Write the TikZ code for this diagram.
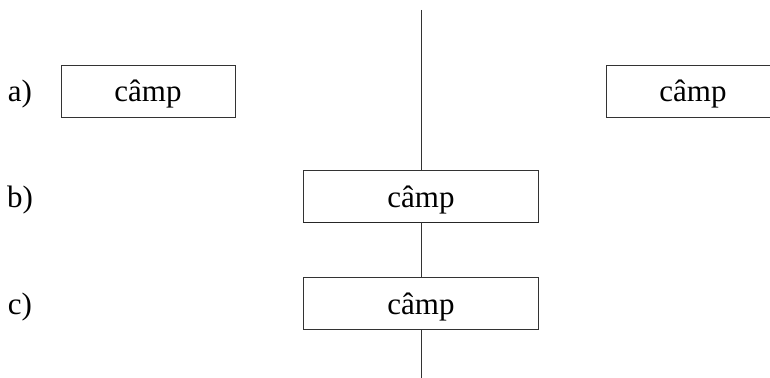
\documentclass[tikz,border=0pt]{standalone}
\usepackage{fontspec}
\setmainfont{Liberation Serif}
\usepackage{tikz}
\usetikzlibrary{positioning}
\tikzstyle{campbox} = [draw=black!80, line width=0.8pt, fill=white, minimum width=174pt, minimum height=52pt, inner sep=0pt, text height=22pt, text depth=0pt, font=\fontsize{31}{36}\selectfont]
\tikzstyle{widebox} = [campbox, minimum width=235pt]
\tikzstyle{lbl} = [inner sep=0pt, anchor=base, font=\fontsize{31}{36}\selectfont]
\tikzstyle{axis} = [draw=black!80, line width=0.8pt]

\begin{document}
\begin{tikzpicture}[x=1pt, y=-1pt]
\useasboundingbox (0,0) rectangle (770,377);
\clip (0,0) rectangle (770,377);
% axis ends
\coordinate (top) at (421,10);
\coordinate (bot) at (421,380);

% a)
\node[lbl] (labA) at (20,102) {a)};
\node[campbox] (boxA) at (148,91) {câmp};
\node[campbox] (boxAR) at (693,91) {câmp};

% b)
\node[lbl] (labB) at (20,207) {b)};
\node[widebox] (boxB) at (421,196) {câmp};
\draw[black!85, line width=1.8pt] (boxB.south west) -- (boxB.south east);

% c)
\node[lbl] (labC) at (20,314) {c)};
\node[widebox] (boxC) at (421,303) {câmp};

% axis
\draw[axis] (top) -- (boxB.north);
\draw[axis] (boxB.south) -- (boxC.north);
\draw[axis] (boxC.south) -- (bot);
\end{tikzpicture}
\end{document}
